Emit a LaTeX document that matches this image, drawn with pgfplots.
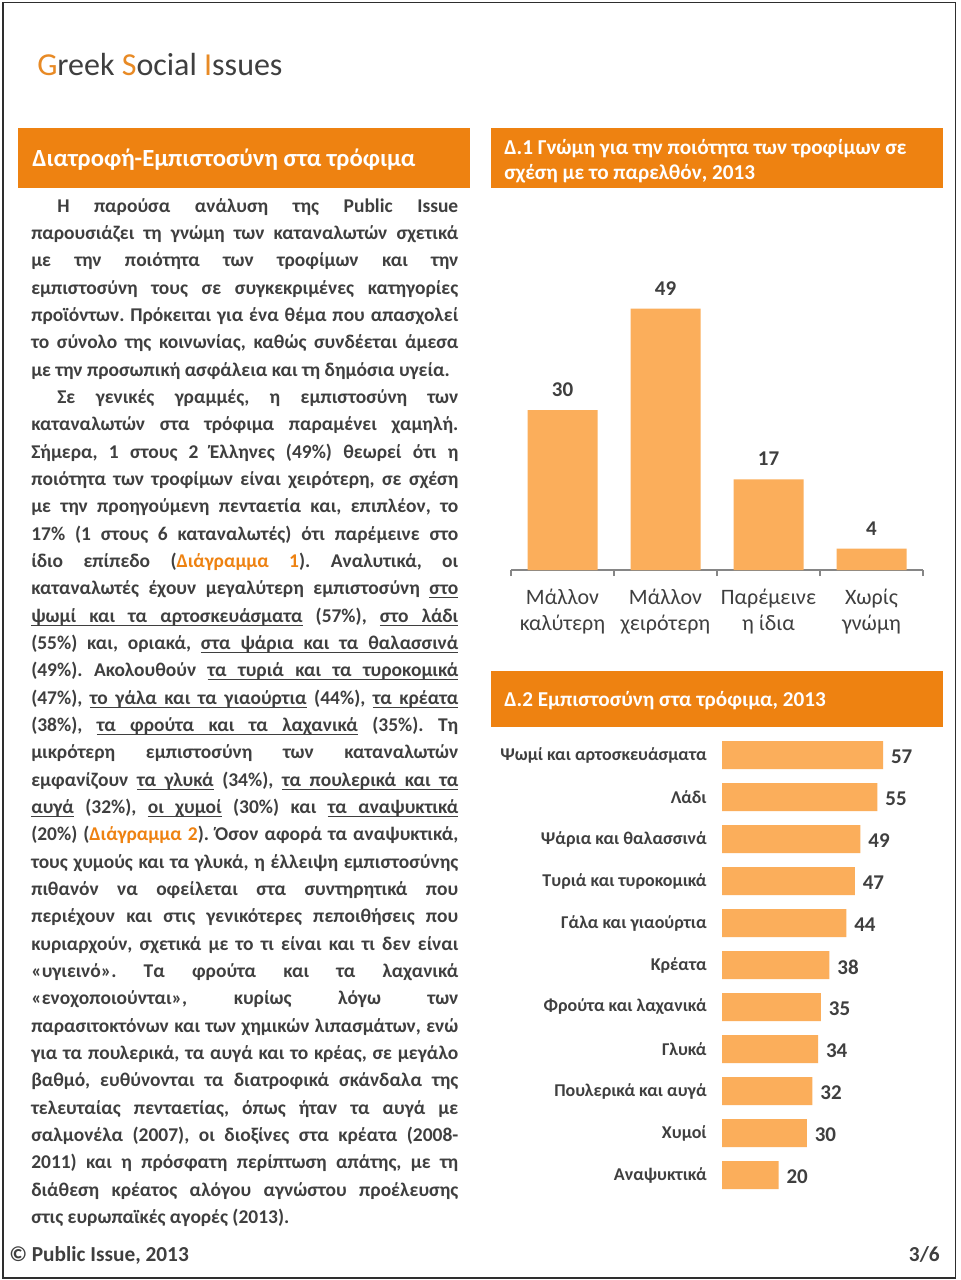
\documentclass[border=0pt]{standalone}
\usepackage{pgfplots}
\pgfplotsset{compat=1.18}
\usepackage{fontspec}
\setmainfont{Carlito}
\frenchspacing
\newcommand\U[1]{\setbox0\hbox{#1}\rlap{\vrule width\wd0 height -1.8pt depth 2.7pt}\box0\relax}
\newcommand\Us{\leaders\hrule height -1.8pt depth 2.7pt\hskip\fontdimen2\font plus\fontdimen3\font minus\fontdimen4\font\relax}
\definecolor{hdr}{HTML}{EE8211}
\definecolor{barc}{HTML}{FBAE5B}
\definecolor{txt}{HTML}{3F3F3F}
\definecolor{ttl}{HTML}{E88A25}
\definecolor{axgray}{HTML}{868686}
\definecolor{frame}{HTML}{2E2E2E}
\begin{document}
\begin{tikzpicture}[x=0.75pt,y=-0.75pt]
\fill[white] (0,0) rectangle (960,1280);
\draw[line width=1.4pt, color=frame] (3,2.5) rectangle (955.5,1278);
% title
\node[anchor=base west, inner sep=0pt, text=txt] at (37,76) {\fontsize{24pt}{28pt}\selectfont\textcolor{ttl}{G}reek \textcolor{ttl}{S}ocial \textcolor{ttl}{I}ssues};
% headers
\fill[hdr] (18,128) rectangle (470,188);
\node[anchor=base west, inner sep=0pt, text=white] at (32,167) {\fontsize{18.5pt}{22pt}\selectfont\bfseries Διατροφή-Εμπιστοσύνη στα τρόφιμα};
\fill[hdr] (491,128) rectangle (943,188);
\node[anchor=base west, inner sep=0pt, text=white] at (504,155) {\fontsize{15.9pt}{19pt}\selectfont\bfseries Δ.1 Γνώμη για την ποιότητα των τροφίμων σε};
\node[anchor=base west, inner sep=0pt, text=white] at (504,180) {\fontsize{15.9pt}{19pt}\selectfont\bfseries σχέση με το παρελθόν, 2013};
\fill[hdr] (491,671) rectangle (943,727);
\node[anchor=base west, inner sep=0pt, text=white] at (504,706) {\fontsize{15.9pt}{19pt}\selectfont\bfseries Δ.2 Εμπιστοσύνη στα τρόφιμα, 2013};
% body text
\node[anchor=north west, inner sep=0pt, text width=320.25pt, align=justify, text=txt,
      font=\fontsize{14.6pt}{20.5pt}\selectfont\bfseries] at (31,198) {\parindent=0pt\tolerance=10000\hyphenpenalty=10000\frenchspacing
\hspace*{19.5pt}Η παρούσα ανάλυση της Public Issue\linebreak
παρουσιάζει τη γνώμη των καταναλωτών σχετικά\linebreak
με την ποιότητα των τροφίμων και την\linebreak
εμπιστοσύνη τους σε συγκεκριμένες κατηγορίες\linebreak
προϊόντων. Πρόκειται για ένα θέμα που απασχολεί\linebreak
το σύνολο της κοινωνίας, καθώς συνδέεται άμεσα\linebreak
με την προσωπική ασφάλεια και τη δημόσια υγεία.\par
\hspace*{19.5pt}Σε γενικές γραμμές, η εμπιστοσύνη των\linebreak
καταναλωτών στα τρόφιμα παραμένει χαμηλή.\linebreak
Σήμερα, 1 στους 2 Έλληνες (49\%) θεωρεί ότι η\linebreak
ποιότητα των τροφίμων είναι χειρότερη, σε σχέση\linebreak
με την προηγούμενη πενταετία και, επιπλέον, το\linebreak
17\% (1 στους 6 καταναλωτές) ότι παρέμεινε στο\linebreak
ίδιο επίπεδο (\textcolor{hdr}{Διάγραμμα 1}). Αναλυτικά, οι\linebreak
καταναλωτές έχουν μεγαλύτερη εμπιστοσύνη \U{στο}\linebreak
\U{ψωμί}\Us\U{και}\Us\U{τα}\Us\U{αρτοσκευάσματα} (57\%), \U{στο}\Us\U{λάδι}\linebreak
(55\%) και, οριακά, \U{στα}\Us\U{ψάρια}\Us\U{και}\Us\U{τα}\Us\U{θαλασσινά}\linebreak
(49\%). Ακολουθούν \U{τα}\Us\U{τυριά}\Us\U{και}\Us\U{τα}\Us\U{τυροκομικά}\linebreak
(47\%), \U{το}\Us\U{γάλα}\Us\U{και}\Us\U{τα}\Us\U{γιαούρτια} (44\%), \U{τα}\Us\U{κρέατα}\linebreak
(38\%), \U{τα}\Us\U{φρούτα}\Us\U{και}\Us\U{τα}\Us\U{λαχανικά} (35\%). Τη\linebreak
μικρότερη εμπιστοσύνη των καταναλωτών\linebreak
εμφανίζουν \U{τα}\Us\U{γλυκά} (34\%), \U{τα}\Us\U{πουλερικά}\Us\U{και}\Us\U{τα}\linebreak
\U{αυγά} (32\%), \U{οι}\Us\U{χυμοί} (30\%) και \U{τα}\Us\U{αναψυκτικά}\linebreak
(20\%) (\textcolor{hdr}{Διάγραμμα 2}). Όσον αφορά τα αναψυκτικά,\linebreak
τους χυμούς και τα γλυκά, η έλλειψη εμπιστοσύνης\linebreak
πιθανόν να οφείλεται στα συντηρητικά που\linebreak
περιέχουν και στις γενικότερες πεποιθήσεις που\linebreak
κυριαρχούν, σχετικά με το τι είναι και τι δεν είναι\linebreak
«υγιεινό». Τα φρούτα και τα λαχανικά\linebreak
«ενοχοποιούνται», κυρίως λόγω των\linebreak
παρασιτοκτόνων και των χημικών λιπασμάτων, ενώ\linebreak
για τα πουλερικά, τα αυγά και το κρέας, σε μεγάλο\linebreak
βαθμό, ευθύνονται τα διατροφικά σκάνδαλα της\linebreak
τελευταίας πενταετίας, όπως ήταν τα αυγά με\linebreak
σαλμονέλα (2007), οι διοξίνες στα κρέατα (2008-\linebreak
2011) και η πρόσφατη περίπτωση απάτης, με τη\linebreak
διάθεση κρέατος αλόγου αγνώστου προέλευσης\linebreak
στις ευρωπαϊκές αγορές (2013).\par};
% chart 1
\begin{axis}[
 at={(383.25pt,-427.5pt)}, anchor=south west,
 scale only axis, width=309pt, height=240pt,
 xmin=-0.5, xmax=3.5, ymin=0, ymax=60,
 ybar, bar width=52.5pt, bar shift=0pt,
 axis x line=bottom, axis y line=none,
 x axis line style={-, draw=axgray, line width=1.1pt},
 xtick={0,1,2,3},
 xticklabels={{Μάλλον\\καλύτερη},{Μάλλον\\χειρότερη},{Παρέμεινε\\η ίδια},{Χωρίς\\γνώμη}},
 xticklabel style={align=center, font=\fontsize{16.5pt}{19.5pt}\selectfont, text=txt, yshift=-11pt},
 major tick length=0pt,
 minor xtick={-0.5,0.5,1.5,2.5,3.5},
 minor tick length=4.5pt,
 tick align=outside,
 minor tick style={draw=axgray, line width=1.1pt},
 /pgf/number format/assume math mode=true,
 nodes near coords, point meta=y,
 nodes near coords style={font=\fontsize{15.75pt}{18pt}\selectfont\bfseries, text=txt, yshift=6.5pt},
 clip=false,
]
\addplot[fill=barc, draw=none] coordinates {(0,30) (1,49) (2,17) (3,4)};
\end{axis}
% chart 2
\begin{axis}[
 at={(541.5pt,-550.5pt)}, anchor=north west,
 scale only axis, width=148.3pt, height=346.5pt,
 xmin=0, xmax=70, ymin=-0.5, ymax=10.5, y dir=reverse,
 xbar, bar width=21pt, bar shift=0pt,
 axis x line=none, axis y line=left, y axis line style={draw=none},
 ytick={0,...,10},
 yticklabels={Ψωμί και αρτοσκευάσματα,Λάδι,Ψάρια και θαλασσινά,Τυριά και τυροκομικά,Γάλα και γιαούρτια,Κρέατα,Φρούτα και λαχανικά,Γλυκά,Πουλερικά και αυγά,Χυμοί,Αναψυκτικά},
 yticklabel style={font=\fontsize{13.5pt}{16pt}\selectfont\bfseries, text=txt, xshift=-8pt},
 major tick length=0pt,
 /pgf/number format/assume math mode=true,
 nodes near coords, point meta=x,
 nodes near coords style={font=\fontsize{15.75pt}{18pt}\selectfont\bfseries, text=txt, xshift=2.5pt, yshift=-1.5pt},
 clip=false,
]
\addplot[fill=barc, draw=none] coordinates {(57,0) (55,1) (49,2) (47,3) (44,4) (38,5) (35,6) (34,7) (32,8) (30,9) (20,10)};
\end{axis}
% footer
\node[anchor=base west, inner sep=0pt, text=txt] at (9,1261) {\fontsize{16pt}{18pt}\selectfont\bfseries © Public Issue, 2013};
\node[anchor=base east, inner sep=0pt, text=txt] at (940,1261) {\fontsize{16pt}{18pt}\selectfont\bfseries 3/6};
\end{tikzpicture}
\end{document}
